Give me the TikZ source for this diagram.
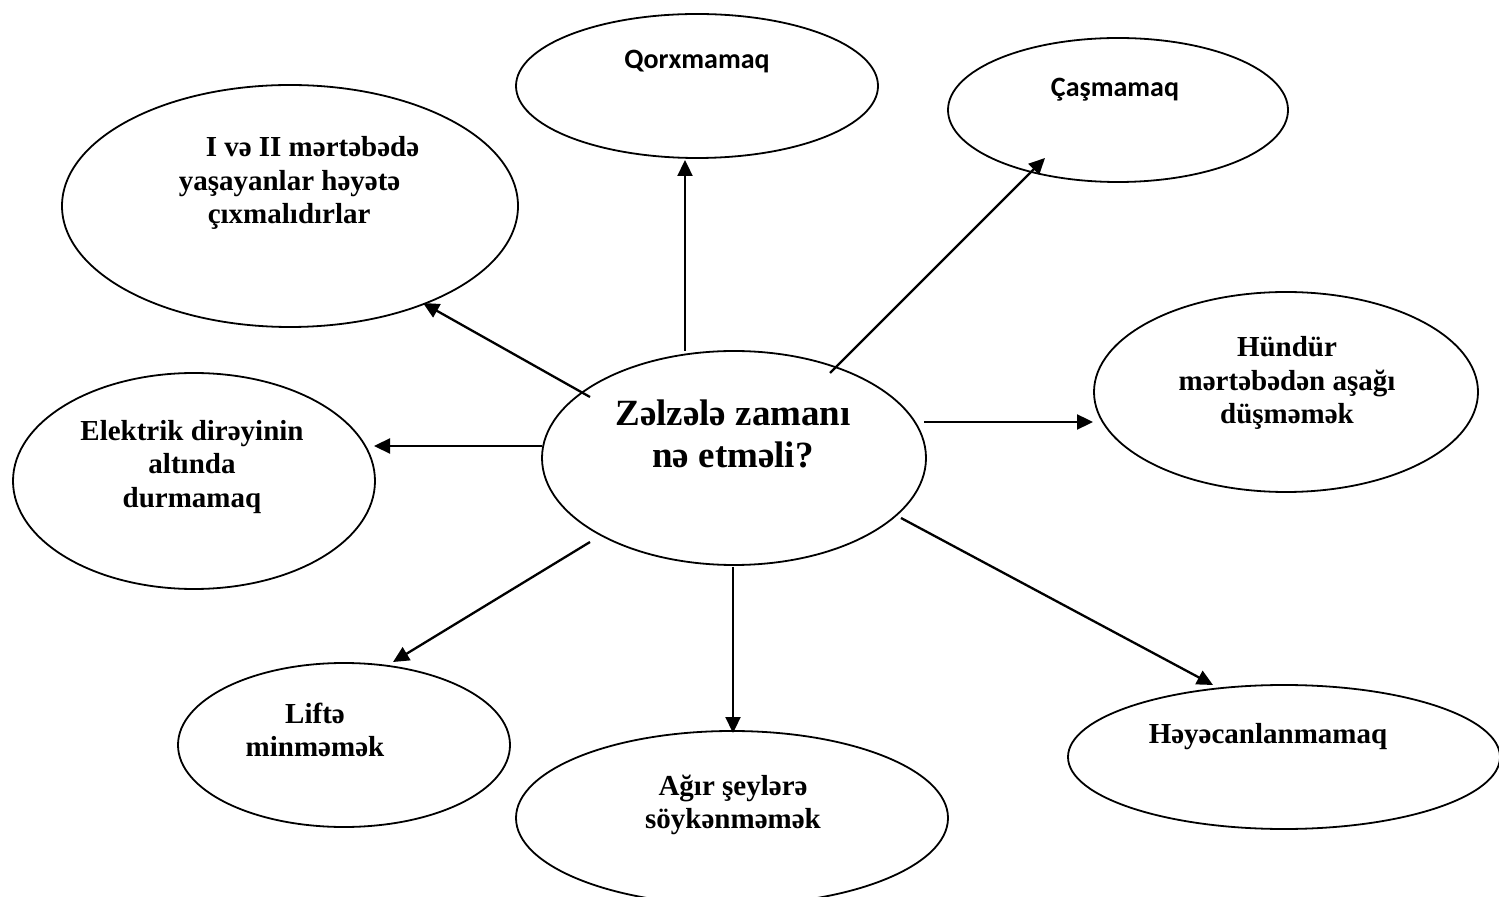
\documentclass[tikz,border=0pt]{standalone}
\usepackage{fontspec}
\setmainfont{Liberation Serif}
\newfontfamily\calibrifont{Carlito}
\usetikzlibrary{shapes.geometric,arrows.meta}
\tikzset{
  ell/.style 2 args={ellipse, draw, line width=0.9pt, inner sep=0pt, minimum width=#1pt, minimum height=#2pt},
  txt/.style={inner sep=0pt, font=\bfseries\fontsize{14.5}{16.8}\selectfont},
  bigtxt/.style={inner sep=0pt, align=center, font=\bfseries\fontsize{18.5}{21}\selectfont},
  sanstxt/.style={inner sep=0pt, anchor=base, font=\calibrifont\bfseries\fontsize{14}{16.8}\selectfont},
  arr/.style={line width=1.15pt, -{Triangle[length=8pt,width=7.5pt]}}
}
\begin{document}
\begin{tikzpicture}[x=0.5pt,y=-0.5pt]
\useasboundingbox (0,0) rectangle (1499,897);
% ellipses (centre in px; rx, ry in px)
\node[ell={192}{107}] (c)  at (734,458) {};
\node[ell={181}{72}]  (q)  at (697,86) {};
\node[ell={170}{72}]  (cs) at (1118,110) {};
\node[ell={228}{121}] (iv) at (290,206) {};
\node[ell={181}{108}] (el) at (194,481) {};
\node[ell={192}{100}] (hd) at (1286,392) {};
\node[ell={166}{82}]  (lf) at (344,745) {};
\node[ell={216}{87}]  (ag) at (732,818) {};
\node[ell={216}{72}]  (hy) at (1284,757) {};
% texts
\node[bigtxt] (ct) at (733,434) {Zəlzələ zamanı\\nə etməli?};
\node[sanstxt] (qt) at (697,69) {Qorxmamaq};
\node[sanstxt] (cst) at (1115,97) {Çaşmamaq};
\node[txt, align=left] (ivt) at (299,183) {\hspace*{13.5pt}I və II mərtəbədə\\yaşayanlar həyətə\\\hspace*{14.5pt}çıxmalıdırlar};
\node[txt, align=center] (elt) at (192,467) {Elektrik dirəyinin\\altında\\durmamaq};
\node[txt, align=center] (hdt) at (1287,383) {Hündür\\mərtəbədən aşağı\\düşməmək};
\node[txt, align=center] (lft) at (315,730) {Liftə\\minməmək};
\node[txt, align=center] (agt) at (733,805) {Ağır şeylərə\\söykənməmək};
\node[txt, anchor=base] (hyt) at (1268,743) {Həyəcanlanmamaq};
% connector end points
\coordinate (s1) at (685,351);  \coordinate (e1) at (685,160);
\coordinate (s2) at (830,373);  \coordinate (e2) at (1045,158);
\coordinate (s3) at (590,397);  \coordinate (e3) at (423,303);
\coordinate (s4) at (542,446);  \coordinate (e4) at (374,446);
\coordinate (s5) at (924,422);  \coordinate (e5) at (1093,422);
\coordinate (s6) at (901,518);  \coordinate (e6) at (1213,685);
\coordinate (s7) at (733,567);  \coordinate (e7) at (733,733);
\coordinate (s8) at (590,542);  \coordinate (e8) at (393,662);
\foreach \i in {1,...,8} \draw[arr] (s\i) -- (e\i);
\end{tikzpicture}
\end{document}
